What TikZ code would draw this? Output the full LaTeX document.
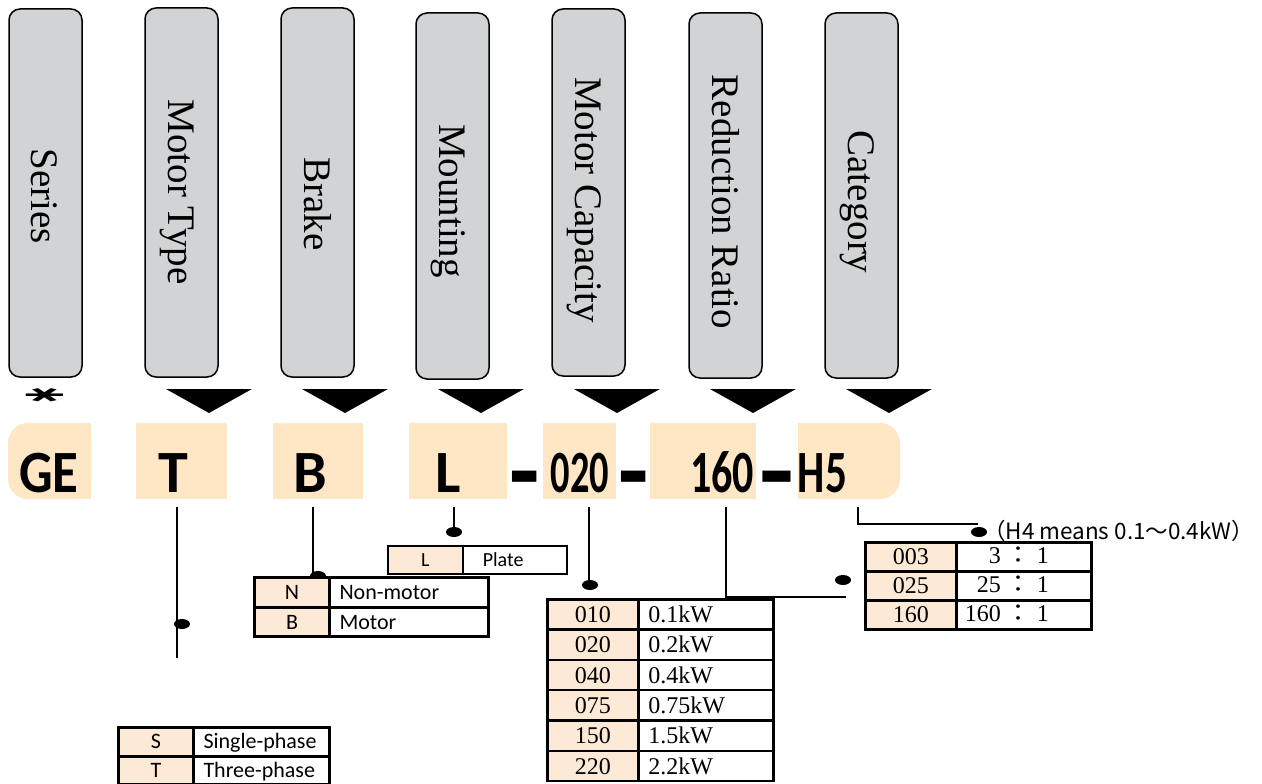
\documentclass[tikz,border=0pt]{standalone}
\usepackage{fontspec}
\setmainfont{Liberation Serif}
\newfontfamily\calib{Carlito}
\newfontfamily\cjk{Noto Sans CJK TC}
\newfontfamily\djv{DejaVu Sans}
\usetikzlibrary{shapes.geometric}
\definecolor{boxgray}{HTML}{D1D3D4}
\definecolor{barfill}{HTML}{FFE7C6}
\definecolor{cellfill}{HTML}{FCE9D6}
\begin{document}
\begin{tikzpicture}[x=1pt,y=-1pt,
  graybox/.style={draw=black, line width=1.5pt, fill=boxgray, rounded corners=11pt},
  glabel/.style={rotate=-90, font=\fontsize{39}{40}\selectfont, inner sep=0pt, text height=25.7pt, text depth=0pt},
  barletter/.style={font=\calib\bfseries\fontsize{60}{60}\selectfont, anchor=base, inner sep=0pt},
  conn/.style={line width=2pt},
  dot/.style={ellipse, fill=black, minimum width=16pt, minimum height=10pt, inner sep=0pt},
  lc/.style={draw=black, fill=cellfill, anchor=north west, inner sep=0pt, text depth=0pt},
  rc/.style={draw=black, fill=white, anchor=north west, inner ysep=0pt, inner xsep=10pt, align=left, text depth=0pt},
  sanstab/.style={font=\calib\fontsize{22}{24}\selectfont, text height=14.2pt},
  sanssmall/.style={font=\calib\fontsize{20}{22}\selectfont, text height=12.9pt},
  seriftab/.style={font=\fontsize{24}{26}\selectfont, text height=16pt},
]
\useasboundingbox (0,0) rectangle (1262,784);

% ---- gray header boxes
\draw[graybox] (9,9) rectangle (82,377);
\draw[graybox] (145,8) rectangle (218,377);
\draw[graybox] (281,8) rectangle (354,377);
\draw[graybox] (416,13) rectangle (489,379);
\draw[graybox] (552,9) rectangle (625,376);
\draw[graybox] (689,13) rectangle (762,378);
\draw[graybox] (825,13) rectangle (898,378);
\node[glabel] (lSeries) at (44.5,196) {Series};
\node[glabel] (lMotorType) at (181.5,192) {Motor Type};
\node[glabel] (lBrake) at (317.5,204) {Brake};
\node[glabel] (lMounting) at (452.5,201) {Mounting};
\node[glabel] (lCapacity) at (588.5,200) {Motor Capacity};
\node[glabel] (lRatio) at (725.5,202) {Reduction Ratio};
\node[glabel] (lCategory) at (861.5,202) {Category};

% ---- triangles
\foreach \i in {0,...,5}{
  \fill[black] (166+136*\i,389) -- (252+136*\i,389) -- (209+136*\i,413) -- cycle;
}

% ---- asterisk
\node[inner sep=0pt] (star) at (45,395.5) {\scalebox{1.75}[0.65]{\rotatebox{90}{\djv\bfseries\fontsize{34}{34}\selectfont ∗}}};

% ---- code bar
\fill[barfill, rounded corners=20pt] (8,423) rectangle (91,499);
\fill[barfill] (50,423) rectangle (91,499);
\fill[barfill] (136,423) rectangle (227,499);
\fill[barfill] (273,423) rectangle (363,499);
\fill[barfill] (409,423) rectangle (507,499);
\fill[barfill] (543,423) rectangle (616,499);
\fill[barfill] (650,423) rectangle (756,499);
\fill[barfill, rounded corners=20pt] (798,423) rectangle (900,499);
\fill[barfill] (798,423) rectangle (850,499);

\node[barletter] (cGE) at (49,492) {\scalebox{0.88}[1]{GE}};
\node[barletter] (cT) at (173.5,492) {T};
\node[barletter] (cB) at (310.5,492) {B};
\node[barletter] (cL) at (448,492) {L};
\node[barletter] (d1) at (524.5,507) {\scalebox{1.65}[1.8]{-}};
\node[barletter] (c020) at (580,492) {\scalebox{0.64}[1]{020}};
\node[barletter] (d2) at (633.5,507) {\scalebox{1.65}[1.8]{-}};
\node[barletter] (c160) at (722,492) {\scalebox{0.7}[1]{160}};
\node[barletter] (d3) at (776.5,507) {\scalebox{1.9}[1.8]{-}};
\node[barletter] (cH5) at (822.5,492) {\scalebox{0.72}[1]{H5}};

% ---- connector points
\coordinate (pT) at (177,507);   \coordinate (eT) at (177,658);
\coordinate (pB) at (313,507);   \coordinate (eB) at (313,576);
\coordinate (pL) at (454,507);
\coordinate (p020) at (589,507);
\coordinate (p160) at (726,507); \coordinate (e160) at (846,597);
\coordinate (pH5) at (858,507);  \coordinate (eH5) at (978,524);

\node[dot] (dT) at (182,624) {};
\node[dot] (dB) at (318,576) {};
\node[dot] (dL) at (454,532) {};
\node[dot] (d020) at (590,585) {};
\node[dot] (d160) at (843,580) {};
\node[dot] (dH5) at (979,532) {};

\draw[conn] (pT) -- (eT);
\draw[conn] (pB) -- (eB);
\draw[conn] (pL) -- (dL.center);
\draw[conn] (p020) -- (p020 |- d020.center);
\draw[conn] (p160) |- (e160);
\draw[conn] (pH5) |- (eH5);

\node[anchor=west, inner sep=0pt, font=\cjk\fontsize{22.5}{24}\selectfont, text height=15pt, text depth=0pt] (note) at (983,532) {（H4 means 0.1～0.4kW）};

% ---- table Motor type
\begin{scope}[sanstab, line width=3pt]
\node[lc, minimum width=75pt, minimum height=28.5pt] (s1l) at (117,726) {S};
\node[rc, text width=116pt, minimum height=28.5pt] (s1r) at (192,726) {Single-phase};
\node[lc, minimum width=75pt, minimum height=28pt] (s2l) at (117,754.5) {T};
\node[rc, text width=116pt, minimum height=28pt] (s2r) at (192,754.5) {Three-phase};
\end{scope}

% ---- table Brake
\begin{scope}[sanstab, line width=3pt]
\node[lc, minimum width=75pt, minimum height=30pt] (b1l) at (253,576) {N};
\node[rc, text width=139pt, minimum height=30pt] (b1r) at (328,576) {Non-motor};
\node[lc, minimum width=75pt, minimum height=29pt] (b2l) at (253,606) {B};
\node[rc, text width=139pt, minimum height=29pt] (b2r) at (328,606) {Motor};
\end{scope}

% ---- table Mounting
\begin{scope}[sanssmall, line width=1.5pt]
\node[lc, minimum width=75pt, minimum height=28pt] (m1l) at (387,545) {L};
\node[rc, minimum height=28pt, inner xsep=20pt, text width=64pt] (m1r) at (462,545) {Plate};
\end{scope}

% ---- table Capacity
\begin{scope}[seriftab, line width=2.5pt]
\foreach \k/\a/\b in {0/010/0.1kW,1/020/0.2kW,2/040/0.4kW,3/075/0.75kW,4/150/1.5kW,5/220/2.2kW}{
  \node[lc, minimum width=91pt, minimum height=30.33pt] (p\k l) at (546,598+30.33*\k) {\a};
  \node[rc, text width=115pt, minimum height=30.33pt] (p\k r) at (637,598+30.33*\k) {\b};
}
\end{scope}

% ---- table Ratio
\begin{scope}[seriftab, line width=2.5pt]
\foreach \k/\a/\b in {0/003/3,1/025/25,2/160/160}{
  \node[lc, minimum width=91pt, minimum height=29pt] (r\k l) at (864,541+29*\k) {\a};
  \node[draw=black, fill=white, anchor=north west, minimum width=135pt, minimum height=29pt, inner sep=0pt] (r\k r) at (955,541+29*\k) {};
  \node[anchor=east, inner sep=0pt, text depth=0pt] (r\k t) at (1050,555.5+29*\k) {\b\ {\cjk ：}\ 1};
}
\end{scope}
\end{tikzpicture}
\end{document}
